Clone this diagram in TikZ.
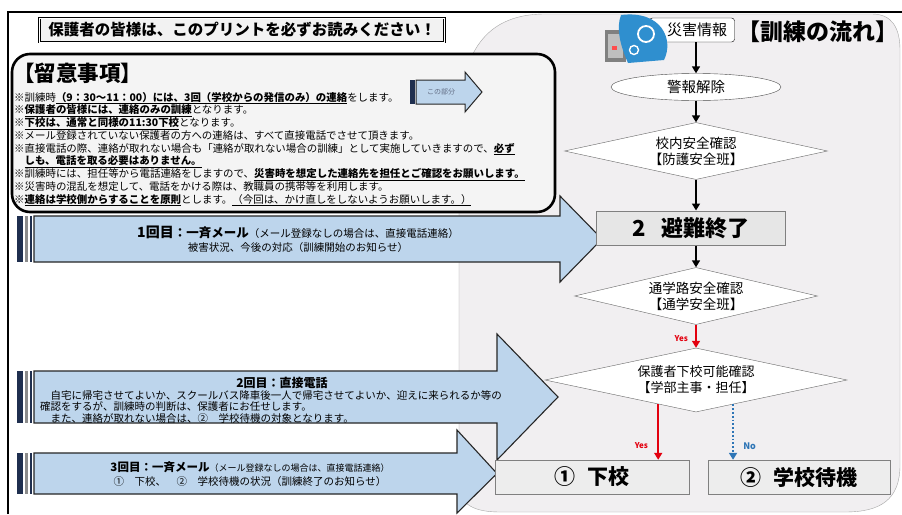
\documentclass[tikz,border=0pt]{standalone}
\usepackage{fontspec}
\setmainfont{Noto Sans CJK JP}
\usetikzlibrary{arrows.meta,shapes.geometric,calc}

\definecolor{navy}{HTML}{1F2F4F}
\definecolor{blockblue}{HTML}{BDD5EC}
\definecolor{areabg}{HTML}{F1EFF1}
\definecolor{notebg}{HTML}{F4F4F4}
\definecolor{boxgray}{HTML}{E6E6E6}
\definecolor{yesred}{HTML}{E3000F}
\definecolor{noblue}{HTML}{2E75B6}
\definecolor{wavecol}{HTML}{2F8FCF}

\newcommand{\pxfont}[2]{\fontsize{#1}{#2}\selectfont}
\newcommand{\imp}[1]{\underline{\textbf{#1}}}

\begin{document}
\begin{tikzpicture}[x=1pt, y=-1pt,
        flow/.style = {line width=1.6pt,-{Triangle[length=7pt,width=8pt]}},
        yesflow/.style = {flow,yesred},
        noflow/.style = {line width=1.8pt,dotted,noblue,-{Triangle[length=7pt,width=8pt]}},
        blockarrow/.style = {draw=black!85,line width=1.1pt,fill=blockblue,line join=miter},
        notice/.style = {draw,line width=0.9pt,double=white,double distance=0.8pt,fill=black!5,
            minimum width=405pt,minimum height=24pt,inner sep=0,font=\pxfont{15.5}{16}\bfseries},
        notetext/.style = {anchor=north west,align=left,inner sep=0,font=\pxfont{10.45}{12.75}},
        armtext/.style = {inner sep=0,font=\pxfont{10.5}{14}},
        startbox/.style = {draw,rounded corners=3pt,fill=white,minimum width=85pt,
            minimum height=24pt,inner sep=0,font=\pxfont{15}{16}},
        oval/.style = {ellipse,draw=black!70,fill=white,minimum width=170pt,
            minimum height=27pt,inner sep=0,font=\pxfont{14.5}{15}},
        decide/.style = {diamond,draw=black!60,fill=white,aspect=4.6,inner sep=0,
            align=center,font=\pxfont{13.5}{16}},
        endbox/.style = {draw=black!50,line width=1pt,fill=boxgray,minimum width=189pt,
            minimum height=34pt,inner sep=0,font=\pxfont{22}{22}\bfseries},
        result/.style = {draw=black!50,fill=boxgray!70,minimum height=34pt,inner sep=0,
            font=\pxfont{21}{21}\bfseries}]
                \useasboundingbox (0,0) rectangle (902,514);
                \fill[white] (0,0) rectangle (902,514);

                % grey panel behind the flow chart
                \draw[black!35, fill=areabg] (459,485) -- (459,130)
                    .. controls (459,60) and (480,14) .. (545,14) -- (872,14)
                    .. controls (892,14) and (900,28) .. (900,50) -- (900,465)
                    .. controls (900,500) and (880,512) .. (845,512) -- (500,512)
                    .. controls (475,512) and (459,505) .. (459,485) -- cycle;
                \draw[line width=2.4pt] (8,514) -- (8,12) -- (902,12);

                \node[notice] (notice) at (242,30) {保護者の皆様は、このプリントを必ずお読みください！};

                % contact arrows
                \foreach \ya/\yb in {216/262, 371/423, 453/494} {
                    \fill[navy] (17,\ya) rectangle (23,\yb);
                    \fill[black!45] (25,\ya) rectangle (28,\yb);
                    \fill[navy] (30,\ya) rectangle (32,\yb);
                }
                \draw[blockarrow] (34,216) -- (560,216) -- (560,196) -- (602,239)
                    -- (560,282) -- (560,262) -- (34,262) -- cycle;
                \draw[blockarrow] (34,371) -- (497,371) -- (497,334) -- (558,397)
                    -- (497,460) -- (497,423) -- (34,423) -- cycle;
                \draw[blockarrow] (34,453) -- (457,453) -- (457,430) -- (497,473.5)
                    -- (457,513) -- (457,494) -- (34,494) -- cycle;

                \node[armtext, align=center] (mail1) at (298,239)
                    {{\pxfont{14}{14}\bfseries 1回目}{\pxfont{12.5}{14}\bfseries：一斉メール}{\pxfont{10.5}{12}（メール登録なしの場合は、直接電話連絡）}\\
                     被害状況、今後の対応（訓練開始のお知らせ）};
                \node[armtext, font=\pxfont{12}{12}\bfseries] (tel2) at (282,383) {2回目：直接電話};
                \node[armtext, anchor=north west, align=left, font=\pxfont{10.5}{11.5}] (tel2note) at (40,390)
                    {　自宅に帰宅させてよいか、スクールバス降車後一人で帰宅させてよいか、迎えに来られるか等の\\
                     確認をするが、訓練時の判断は、保護者にお任せします。\\
                     　また、連絡が取れない場合は、②　学校待機の対象となります。};
                \node[armtext, align=center] (mail3) at (250,474)
                    {{\pxfont{11.5}{13}\bfseries 3回目：一斉メール}{\pxfont{9}{11}（メール登録なしの場合は、直接電話連絡）}\\
                     ①　下校、　②　学校待機の状況（訓練終了のお知らせ）};

                % notes
                \draw[line width=2.6pt, fill=notebg, rounded corners=18pt] (12,54) rectangle (555,212);
                \node[anchor=west, inner sep=0, font=\pxfont{21.5}{22}\bfseries] (notehead) at (13,73) {【留意事項】};
                \node[notetext] (notes) at (14,92)
                    {※訓練時\imp{（9：30～11：00）には、3回（学校からの発信のみ）の連絡}をします。\\
                     ※\imp{保護者の皆様には、連絡のみの訓練}となります。\\
                     ※\imp{下校は、通常と同様の11:30下校}となります。\\
                     ※メール登録されていない保護者の方への連絡は、すべて直接電話でさせて頂きます。\\
                     ※直接電話の際、連絡が取れない場合も「連絡が取れない場合の訓練」として実施していきますので、\imp{必ず}\\
                     　\imp{しも、電話を取る必要はありません。}\\
                     ※訓練時には、担任等から電話連絡をしますので、\imp{災害時を想定した連絡先を担任とご確認をお願いします。}\\
                     ※災害時の混乱を想定して、電話をかける際は、教職員の携帯等を利用します。\\
                     ※\imp{連絡は学校側からすることを原則}とします。\underline{（今回は、かけ直しをしないようお願いします。）}};

                \fill[navy] (410,80) rectangle (415,104);
                \draw[blockarrow, line width=1pt] (416,80) -- (465,80) -- (465,72) -- (482,92)
                    -- (465,112) -- (465,104) -- (416,104) -- cycle;
                \node[inner sep=0, font=\pxfont{7}{7}, text=navy!70] (thispart) at (441,92) {この部分};

                % flow chart
                \node[startbox] (info) at (692,30) {\hspace*{10pt}災害情報};
                \node[anchor=west, inner sep=0, font=\pxfont{23}{24}\bfseries] (flowtitle) at (737,32) {【訓練の流れ】};
                \node[oval] (clear) at (696,87) {警報解除};
                \node[decide, minimum width=263pt, minimum height=57pt] (school) at (696,151)
                    {校内安全確認\\【防護安全班】};
                \node[endbox] (evac) at (691,228) {2\hspace{0.7em}避難終了};
                \node[decide, minimum width=243pt, minimum height=57pt] (route) at (696,296)
                    {通学路安全確認\\【通学安全班】};
                \node[decide, minimum width=302pt, minimum height=64pt, font=\pxfont{13}{16}] (parent) at (696,380)
                    {保護者下校可能確認\\【学部主事・担任】};
                \node[result, minimum width=194pt] (home) at (592,477) {①\hspace{0.6em}下校};
                \node[result, minimum width=182pt] (wait) at (799,477) {②\hspace{0.6em}学校待機};

                \draw[flow] (clear.north |- info.south) -- (clear.north);
                \draw[flow] (clear) -- (school);
                \draw[flow] (school.south) -- (school.south |- evac.north);
                \draw[flow] (evac.south -| route.north) -- (route.north);
                \draw[yesflow] (route) -- node[pos=0.6, left=4pt, font=\pxfont{8}{8}\bfseries, text=yesred] {Yes} (parent);
                \coordinate (yesfrom) at ($(parent.south)!0.25!(parent.west)$);
                \coordinate (nofrom) at ($(parent.south)!0.245!(parent.east)$);
                \draw[yesflow] (yesfrom) -- node[pos=0.75, left=6pt, font=\pxfont{8}{8}\bfseries, text=yesred] {Yes} (yesfrom |- home.north);
                \draw[noflow] (nofrom) -- node[pos=0.75, right=6pt, font=\pxfont{9}{9}\bfseries, text=noblue] {No} (nofrom |- wait.north);

                % disaster icon
                \fill[black!50] (605,30) rectangle (626,62);
                \fill[black!25] (608,34) rectangle (623,58);
                \fill[red!70] (612,46) rectangle (617,50);
                \fill[wavecol] (621,15) .. controls (662,10) and (674,40) .. (664,60)
                    -- (628,63) .. controls (620,45) and (616,28) .. (621,15) -- cycle;
                \draw[white, line width=1.8pt] (646,34) circle (8pt);
                \draw[white, line width=1.4pt] (634,50) circle (4.5pt);
            \end{tikzpicture}
\end{document}
